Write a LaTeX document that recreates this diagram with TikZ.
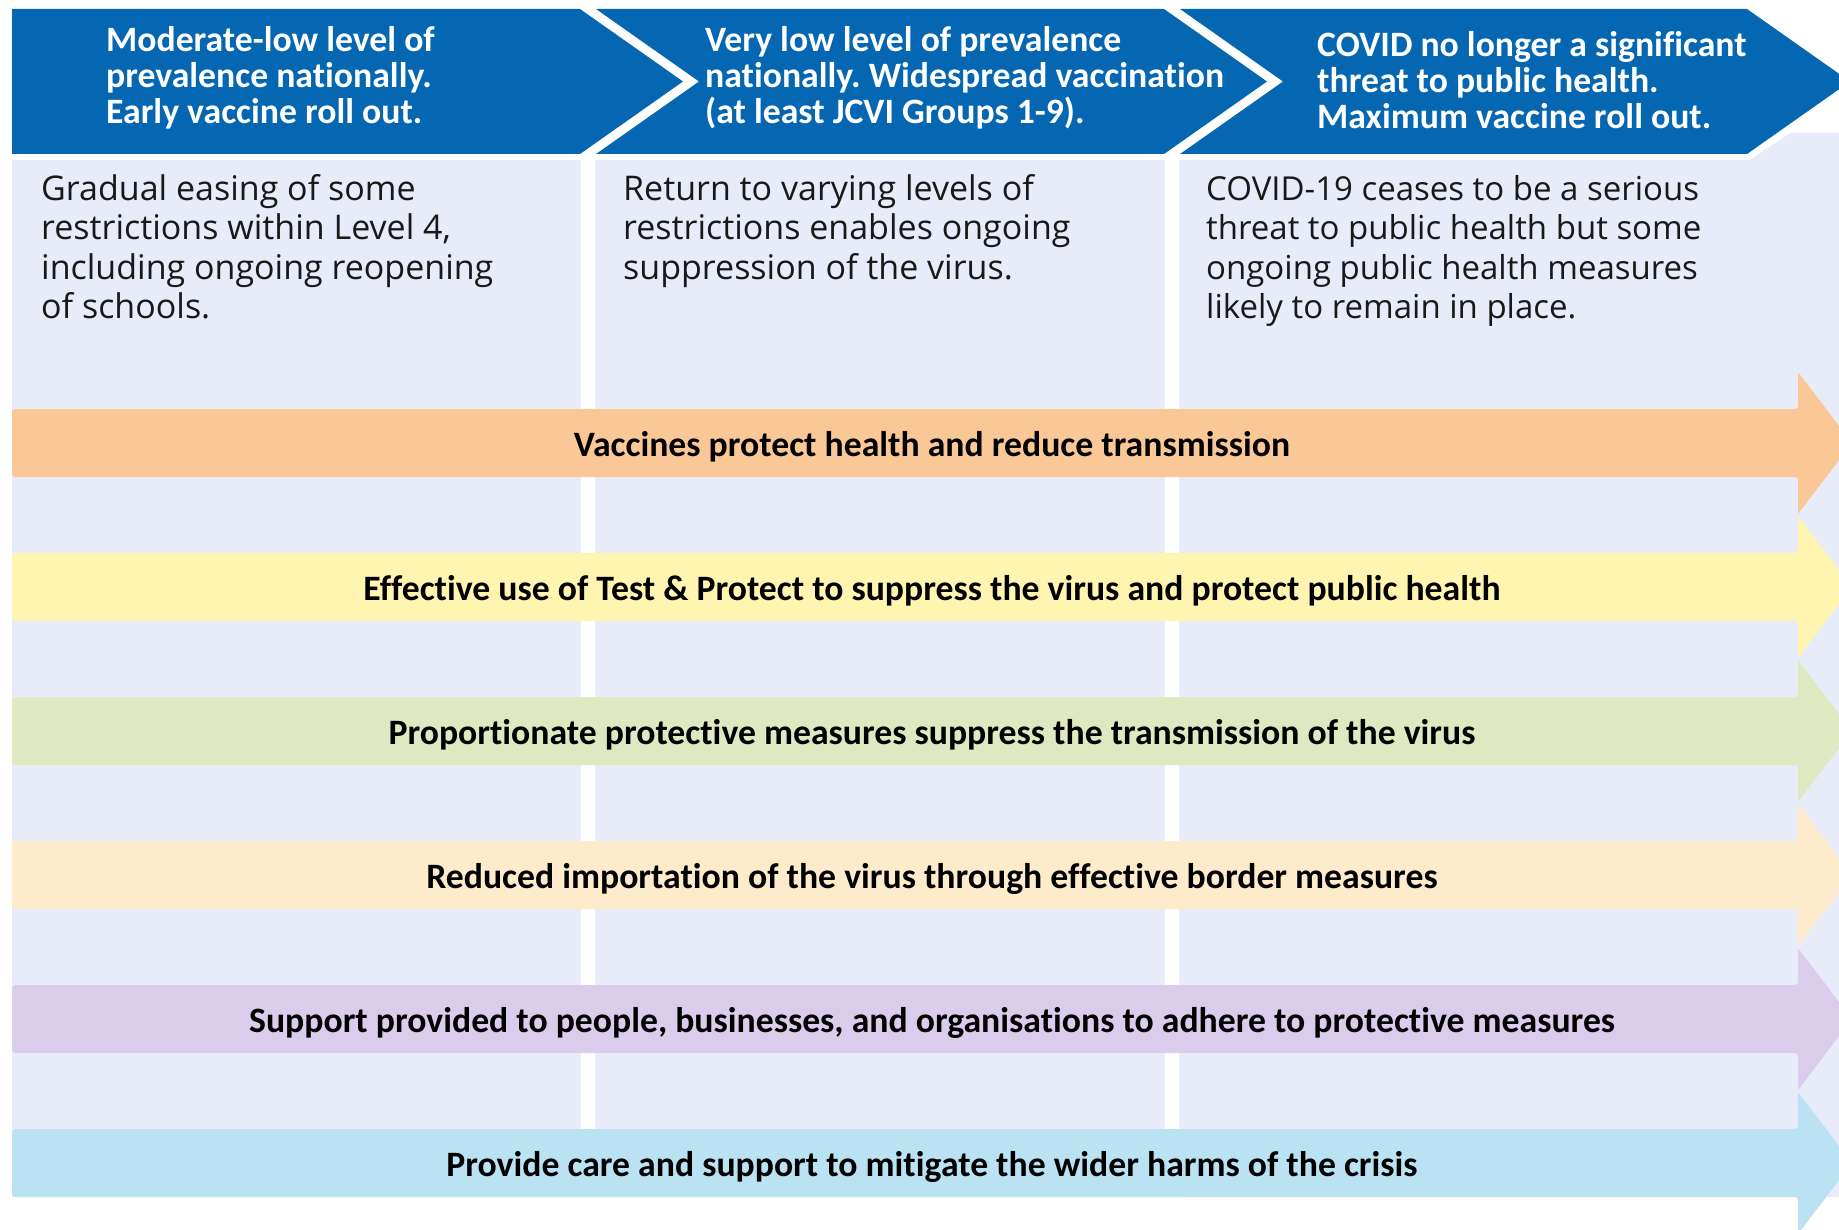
\documentclass[tikz,border=0pt]{standalone}
\usepackage{fontspec}
\setmainfont{Open Sans}
\newfontfamily\bannerfont[Ligatures=NoCommon]{Carlito}
\frenchspacing
\definecolor{bannerblue}{HTML}{0567B1}
\definecolor{bgc}{HTML}{E8ECF8}
\definecolor{aorange}{HTML}{F9C896}
\definecolor{ayellow}{HTML}{FFF5B0}
\definecolor{agreen}{HTML}{DFE9C1}
\definecolor{apeach}{HTML}{FDEBCC}
\definecolor{alav}{HTML}{DACDEC}
\definecolor{ablue}{HTML}{BAE2F3}
\tikzset{
  bannertext/.style={anchor=north west,inner sep=0pt,align=left,text=white,font=\frenchspacing\bannerfont\bfseries\fontsize{35.7}{36}\selectfont},
  bodytext/.style={anchor=north west,inner sep=0pt,align=left,text=black!90,font=\frenchspacing\fontsize{34}{39.5}\selectfont},
  arrowtext/.style={inner sep=0pt,text=black,font=\frenchspacing\bannerfont\bfseries\fontsize{35.7}{38}\selectfont},
}
\newcommand{\bigarrow}[2]{%
  \fill[#1,rounded corners=3pt] (12,#2-34) -- (1798,#2-34) -- (1798,#2-71) [sharp corners] -- (1852,#2) -- (1798,#2+71) [rounded corners=3pt] -- (1798,#2+34) -- (12,#2+34) -- cycle;}
\begin{document}
\begin{tikzpicture}[x=1pt,y=-1pt]
\useasboundingbox (0,0) rectangle (1839,1230);
\clip (0,0) rectangle (1839,1230);
\fill[white] (0,0) rectangle (1839,1230);
% column backgrounds
\fill[bgc] (12,160) rectangle (581,1197);
\fill[bgc] (595,160) rectangle (1165,1197);
\fill[bgc] (1179,160) -- (1750,160) -- (1790,133) -- (1839,133) -- (1839,1197) -- (1179,1197) -- cycle;
% chevrons
\fill[bannerblue] (12,9) -- (580,9) -- (683,81.5) -- (580,154) -- (12,154) -- cycle;
\fill[bannerblue] (596,9) -- (1164,9) -- (1267,81.5) -- (1164,154) -- (596,154) -- (699,81.5) -- cycle;
\fill[bannerblue] (1180,9) -- (1747,9) -- (1850,81.5) -- (1747,154) -- (1180,154) -- (1283,81.5) -- cycle;
\node[bannertext] (b1) at (106,26) {Moderate-low level of\\prevalence nationally.\\Early vaccine roll out.};
\node[bannertext] (b2) at (705,26) {Very low level of prevalence\\nationally. Widespread vaccination\\(at least JCVI Groups 1-9).};
\node[bannertext] (b3) at (1317,31) {COVID no longer a significant\\threat to public health.\\Maximum vaccine roll out.};
% body texts
\node[bodytext] (t1) at (41,174) {Gradual easing of some\\restrictions within Level 4,\\including ongoing reopening\\of schools.};
\node[bodytext] (t2) at (623,174) {Return to varying levels of\\restrictions enables ongoing\\suppression of the virus.};
\node[bodytext,font=\frenchspacing\fontsize{33}{39.5}\selectfont] (t3) at (1206,175) {COVID-19 ceases to be a serious\\threat to public health but some\\ongoing public health measures\\likely to remain in place.};
% arrows
\bigarrow{aorange}{443}
\bigarrow{ayellow}{587}
\bigarrow{agreen}{731}
\bigarrow{apeach}{875}
\bigarrow{alav}{1019}
\bigarrow{ablue}{1163}
\node[arrowtext] (a1) at (932,447) {Vaccines protect health and reduce transmission};
\node[arrowtext] (a2) at (932,591) {Effective use of Test \& Protect to suppress the virus and protect public health};
\node[arrowtext] (a3) at (932,735) {Proportionate protective measures suppress the transmission of the virus};
\node[arrowtext] (a4) at (932,879) {Reduced importation of the virus through effective border measures};
\node[arrowtext] (a5) at (932,1023) {Support provided to people, businesses, and organisations to adhere to protective measures};
\node[arrowtext] (a6) at (932,1167) {Provide care and support to mitigate the wider harms of the crisis};
\end{tikzpicture}
\end{document}
